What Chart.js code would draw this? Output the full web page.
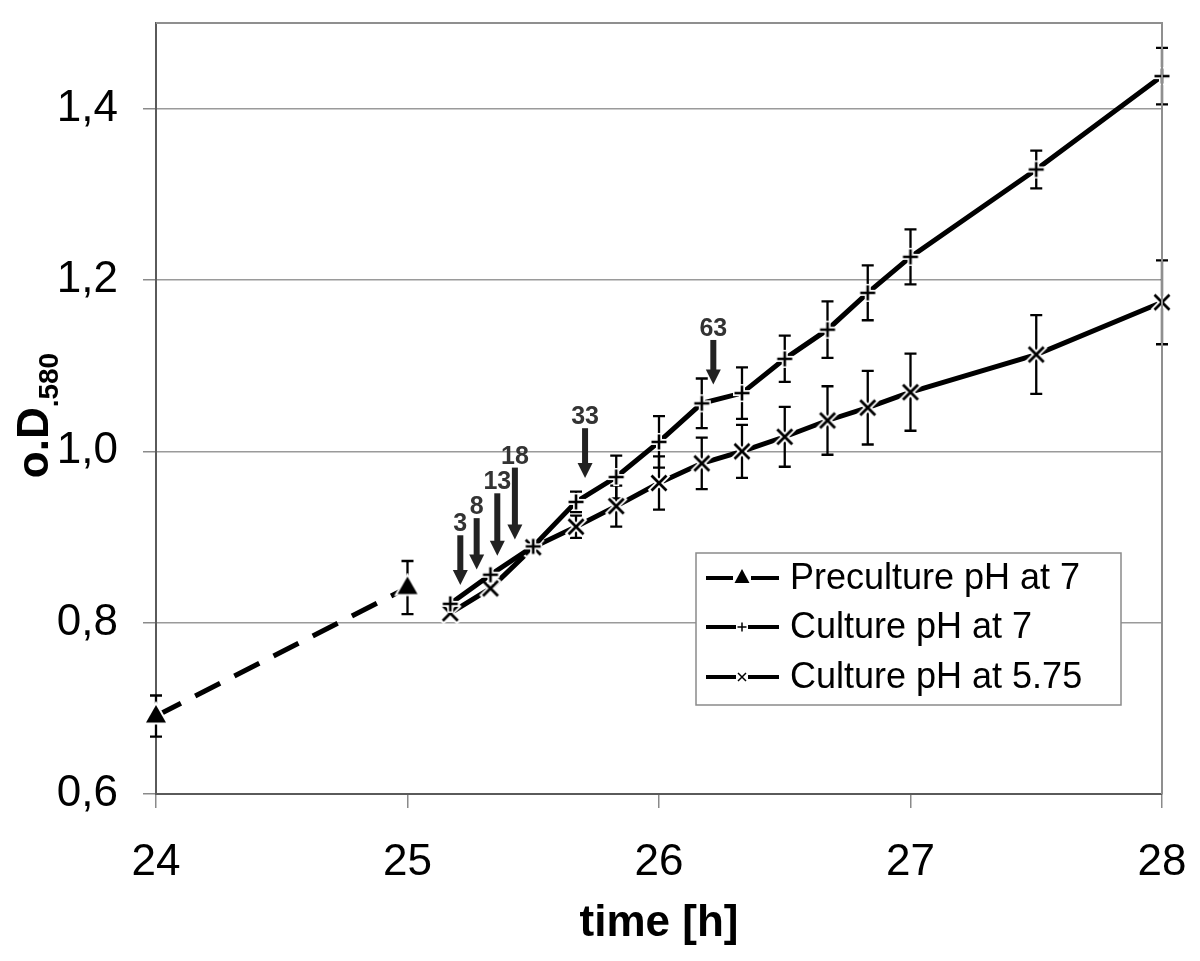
<!DOCTYPE html>
<html><head><meta charset="utf-8">
<script src="https://cdn.jsdelivr.net/npm/chart.js@4.4.1/dist/chart.umd.min.js"></script>
<style>html,body{margin:0;padding:0;background:#fff}#wrap{width:1200px;height:961px;position:relative}</style>
</head><body><div id="wrap"><canvas id="c"></canvas></div>
<script>
// ---- data ----
const seriesNames = ['Preculture pH at 7', 'Culture pH at 7', 'Culture pH at 5.75'];
const preTimes = [24, 25];
const preOD = [0.691, 0.841];
const preErr = [0.024, 0.031];
const cultTimes = [25.17, 25.33, 25.5, 25.67, 25.83, 26, 26.17, 26.33, 26.5, 26.67, 26.83, 27, 27.5, 28, 28.17];
const ph7OD = [0.822, 0.856, 0.889, 0.941, 0.970, 1.011, 1.056, 1.068, 1.108, 1.142, 1.185, 1.227, 1.329, 1.438, 1.50];
const ph7Err = [0, 0, 0, 0.012, 0.025, 0.030, 0.029, 0.030, 0.027, 0.033, 0.032, 0.032, 0.022, 0.033, 0];
const ph575OD = [0.811, 0.840, 0.888, 0.912, 0.936, 0.963, 0.986, 1.000, 1.017, 1.036, 1.051, 1.069, 1.113, 1.174, 1.21];
const ph575Err = [0, 0, 0, 0.013, 0.024, 0.031, 0.030, 0.031, 0.035, 0.040, 0.043, 0.045, 0.046, 0.049, 0];
const xTicks = [24, 25, 26, 27, 28];
const yTicks = [0.6, 0.8, 1.0, 1.2, 1.4];
const arrowLabels = ['3', '8', '13', '18', '33', '63'];
const arrowX = [25.21, 25.275, 25.357, 25.427, 25.706, 26.216];
const arrowTop = [0.902, 0.922, 0.951, 0.981, 1.027, 1.130];
const arrowTip = [0.844, 0.862, 0.878, 0.897, 0.969, 1.078];
const xTitle = 'time [h]';
const yTitleMain = 'o.D';
const yTitleSub = '.580';

const FONT = "'Liberation Sans', Arial, sans-serif";

function makeMarker(type) {
  const c = document.createElement('canvas');
  c.width = 30; c.height = 30;
  const g = c.getContext('2d');
  const m = 15;
  g.lineCap = 'butt';
  if (type === 'tri') {
    g.beginPath();
    g.moveTo(m, m - 11); g.lineTo(m + 10, m + 6.5); g.lineTo(m - 10, m + 6.5); g.closePath();
    g.strokeStyle = '#fff'; g.lineWidth = 4; g.stroke();
    g.fillStyle = '#000'; g.fill();
  } else if (type === 'plus') {
    g.strokeStyle = '#fff'; g.lineWidth = 6;
    g.beginPath(); g.moveTo(m - 9, m); g.lineTo(m + 9, m); g.moveTo(m, m - 9); g.lineTo(m, m + 9); g.stroke();
    g.strokeStyle = '#000'; g.lineWidth = 2.6;
    g.beginPath(); g.moveTo(m - 7.5, m); g.lineTo(m + 7.5, m); g.moveTo(m, m - 7.5); g.lineTo(m, m + 7.5); g.stroke();
  } else {
    g.strokeStyle = '#fff'; g.lineWidth = 6.5;
    g.beginPath(); g.moveTo(m - 9, m - 9); g.lineTo(m + 9, m + 9); g.moveTo(m + 9, m - 9); g.lineTo(m - 9, m + 9); g.stroke();
    g.strokeStyle = '#000'; g.lineWidth = 2.8;
    g.beginPath(); g.moveTo(m - 7.5, m - 7.5); g.lineTo(m + 7.5, m + 7.5); g.moveTo(m + 7.5, m - 7.5); g.lineTo(m - 7.5, m + 7.5); g.stroke();
  }
  return c;
}

const pts = (xs, ys) => xs.map((x, i) => ({x: x, y: ys[i]}));
const errs = [preErr, ph7Err, ph575Err];

const errorBars = {
  id: 'errorBars',
  beforeDatasetsDraw(chart) {
    const ctx = chart.ctx, xs = chart.scales.x, ys = chart.scales.y;
    ctx.save();
    ctx.strokeStyle = '#000'; ctx.lineWidth = 2.3;
    chart.data.datasets.forEach((ds, di) => {
      ds.data.forEach((p, i) => {
        const e = errs[di][i];
        if (!e || p.x > xs.max || p.x < xs.min) return;
        const px = xs.getPixelForValue(p.x);
        const y1 = ys.getPixelForValue(p.y + e), y2 = ys.getPixelForValue(p.y - e);
        ctx.beginPath();
        ctx.moveTo(px, y1); ctx.lineTo(px, y2);
        ctx.moveTo(px - 6, y1); ctx.lineTo(px + 6, y1);
        ctx.moveTo(px - 6, y2); ctx.lineTo(px + 6, y2);
        ctx.stroke();
      });
    });
    ctx.restore();
  }
};

const extras = {
  id: 'extras',
  afterDatasetsDraw(chart) {
    const ctx = chart.ctx, xs = chart.scales.x, ys = chart.scales.y;
    ctx.save();
    arrowLabels.forEach((lab, i) => {
      const px = xs.getPixelForValue(arrowX[i]);
      const pt = ys.getPixelForValue(arrowTop[i]);
      const pb = ys.getPixelForValue(arrowTip[i]);
      ctx.fillStyle = '#222';
      ctx.fillRect(px - 3, pt, 6, pb - pt - 14);
      ctx.beginPath();
      ctx.moveTo(px - 7.5, pb - 15); ctx.lineTo(px + 7.5, pb - 15); ctx.lineTo(px, pb); ctx.closePath(); ctx.fill();
      ctx.fillStyle = '#333';
      ctx.font = 'bold 25px ' + FONT;
      ctx.textAlign = 'center'; ctx.textBaseline = 'alphabetic';
      ctx.fillText(lab, px, pt - 4);
    });
    ctx.restore();
  },
  afterDraw(chart) {
    const ctx = chart.ctx, ca = chart.chartArea;
    ctx.save();
    ctx.strokeStyle = '#8f8f8f'; ctx.lineWidth = 2;
    ctx.beginPath();
    ctx.moveTo(ca.left, ca.top); ctx.lineTo(ca.right, ca.top); ctx.lineTo(ca.right, ca.bottom);
    ctx.stroke();
    ctx.fillStyle = '#000';
    ctx.font = 'bold 44px ' + FONT;
    const w1 = ctx.measureText(yTitleMain).width;
    ctx.font = 'bold 28px ' + FONT;
    const w2 = ctx.measureText(yTitleSub).width;
    const cy = (ca.top + ca.bottom) / 2 + 7;
    ctx.translate(ca.left - 108, cy + (w1 + w2) / 2);
    ctx.rotate(-Math.PI / 2);
    ctx.textAlign = 'left'; ctx.textBaseline = 'alphabetic';
    ctx.font = 'bold 44px ' + FONT;
    ctx.fillText(yTitleMain, 0, 0);
    ctx.font = 'bold 28px ' + FONT;
    ctx.fillText(yTitleSub, w1, 10);
    ctx.restore();

    ctx.save();
    const lx = ca.right - 466, ly = ca.bottom - 241, lw = 425, lh = 152;
    ctx.fillStyle = '#fff'; ctx.fillRect(lx, ly, lw, lh);
    ctx.strokeStyle = '#8a8a8a'; ctx.lineWidth = 1.5; ctx.strokeRect(lx, ly, lw, lh);
    const rows = [25, 74, 124];
    seriesNames.forEach((name, i) => {
      const ry = ly + rows[i];
      ctx.strokeStyle = '#000'; ctx.lineWidth = 4;
      ctx.beginPath(); ctx.moveTo(lx + 10, ry); ctx.lineTo(lx + 83, ry); ctx.stroke();
      const mx = lx + 46;
      if (i === 0) {
        ctx.fillStyle = '#fff'; ctx.fillRect(mx - 9, ry - 3, 18, 6);
        ctx.fillStyle = '#000';
        ctx.beginPath(); ctx.moveTo(mx, ry - 9); ctx.lineTo(mx + 7.5, ry + 5); ctx.lineTo(mx - 7.5, ry + 5); ctx.closePath(); ctx.fill();
      } else {
        ctx.fillStyle = '#fff'; ctx.fillRect(mx - 6, ry - 3, 12, 6);
        ctx.strokeStyle = '#000'; ctx.lineWidth = 1.5;
        ctx.beginPath();
        if (i === 1) { ctx.moveTo(mx - 4.5, ry); ctx.lineTo(mx + 4.5, ry); ctx.moveTo(mx, ry - 4.5); ctx.lineTo(mx, ry + 4.5); }
        else { ctx.moveTo(mx - 4, ry - 4); ctx.lineTo(mx + 4, ry + 4); ctx.moveTo(mx + 4, ry - 4); ctx.lineTo(mx - 4, ry + 4); }
        ctx.stroke();
      }
      ctx.fillStyle = '#000';
      ctx.font = '36px ' + FONT;
      ctx.textAlign = 'left'; ctx.textBaseline = 'middle';
      ctx.fillText(name, lx + 94, ry + 1);
    });
    ctx.restore();
  }
};

const clipBox = {left: 14, top: 14, right: 10, bottom: 14};

new Chart(document.getElementById('c'), {
  type: 'line',
  data: {
    datasets: [
      {label: seriesNames[0], data: pts(preTimes, preOD), borderColor: '#000', borderWidth: 5,
       borderDash: [28, 16], pointStyle: makeMarker('tri'), pointRadius: 10, clip: clipBox},
      {label: seriesNames[1], data: pts(cultTimes, ph7OD), borderColor: '#000', borderWidth: 5,
       pointStyle: makeMarker('plus'), pointRadius: 10, clip: clipBox},
      {label: seriesNames[2], data: pts(cultTimes, ph575OD), borderColor: '#000', borderWidth: 5,
       pointStyle: makeMarker('x'), pointRadius: 10, clip: clipBox}
    ]
  },
  options: {
    responsive: true, maintainAspectRatio: false, animation: false,
    layout: {autoPadding: false, padding: {left: 57, right: 38, top: 23, bottom: 10}},
    plugins: {legend: {display: false}, tooltip: {enabled: false}},
    elements: {line: {tension: 0, borderCapStyle: 'butt'}},
    scales: {
      x: {
        type: 'linear', min: 24, max: 28,
        afterBuildTicks: s => { s.ticks = xTicks.map(v => ({value: v})); },
        afterFit: s => { s.height = 157; s.paddingLeft = 0; s.paddingRight = 0; },
        ticks: {color: '#000', font: {family: FONT, size: 44, lineHeight: 1.2}, padding: 28,
                callback: v => String(v)},
        grid: {drawOnChartArea: false, tickLength: 14, color: '#8a8a8a', lineWidth: 1.5},
        border: {display: true, color: '#5a5a5a', width: 2},
        title: {display: true, text: xTitle, color: '#000', font: {family: FONT, size: 44, weight: 'bold', lineHeight: 1},
                padding: {top: 11, bottom: 5}}
      },
      y: {
        type: 'linear', min: 0.6, max: 1.5,
        afterBuildTicks: s => { s.ticks = yTicks.map(v => ({value: v})); },
        afterFit: s => { s.width = 99; s.paddingTop = 0; s.paddingBottom = 0; },
        ticks: {color: '#000', font: {family: FONT, size: 44, lineHeight: 1}, padding: 25,
                callback: v => v.toFixed(1).replace('.', ',')},
        grid: {color: '#9a9a9a', lineWidth: 1.5, tickLength: 13, tickColor: '#8a8a8a'},
        border: {display: true, color: '#5a5a5a', width: 2}
      }
    }
  },
  plugins: [errorBars, extras]
});
</script>
</body></html>
